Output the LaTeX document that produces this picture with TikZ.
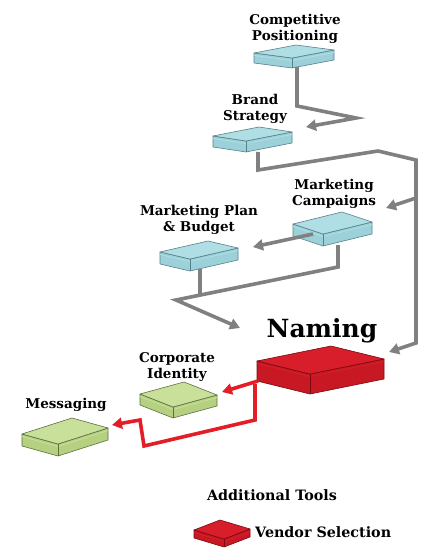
\documentclass[tikz,border=0pt]{standalone}
\usepackage{fontspec}
\setmainfont{DejaVu Serif}
\usetikzlibrary{arrows.meta,calc}

\definecolor{bluetop}{RGB}{176,222,229}
\definecolor{blueside}{RGB}{156,209,218}
\definecolor{blueedge}{RGB}{88,128,138}
\definecolor{greentop}{RGB}{200,224,154}
\definecolor{greenside}{RGB}{180,208,128}
\definecolor{greenedge}{RGB}{92,112,62}
\definecolor{redtop}{RGB}{216,30,42}
\definecolor{redside}{RGB}{200,24,36}
\definecolor{rededge}{RGB}{120,10,16}
\definecolor{linkgray}{RGB}{128,128,128}
\definecolor{linkred}{RGB}{228,30,38}

% #1 left, #2 front, #3 right corner of the top face, #4 thickness, #5 colour
\newcommand{\slab}[5]{%
  \coordinate (sl) at #1; \coordinate (sf) at #2; \coordinate (sr) at #3;
  \coordinate (sb) at ($(sl)+(sr)-(sf)$);
  \filldraw[fill=#5side,draw=#5edge,line width=0.6pt,line join=round]
    (sl) -- (sf) -- (sr) -- ($(sr)+(0,#4)$) -- ($(sf)+(0,#4)$) -- ($(sl)+(0,#4)$) -- cycle;
  \draw[#5top,line width=0.8pt] ($(sl)+(0,2.5)$) -- ($(sf)+(0,2.5)$) -- ($(sr)+(0,2.5)$);
  \filldraw[fill=#5top,draw=#5edge,line width=0.6pt,line join=round]
    (sl) -- (sb) -- (sr) -- (sf) -- cycle;
  \draw[#5edge,line width=0.6pt] (sf) -- ($(sf)+(0,#4)$);
}

\begin{document}
\begin{tikzpicture}[x=1pt,y=-1pt,
    label/.style={font=\bfseries\fontsize{13.5}{15.5}\selectfont,align=center,inner sep=0pt},
    legend/.style={label,font=\bfseries\fontsize{14.3}{16}\selectfont},
    glink/.style={draw=linkgray,line width=3.6pt,line join=miter},
    rlink/.style={draw=linkred,line width=3.6pt,line join=miter},
    tip/.style={-{Triangle[length=10pt,width=11pt]}}]
\useasboundingbox (0,0) rectangle (428,548);

\slab{(254,53)}{(292,58)}{(334,50)}{10}{blue}
\slab{(213,136)}{(246,141)}{(292,132)}{11}{blue}
\slab{(160,252)}{(190,259)}{(238,248)}{12}{blue}
\slab{(293,224)}{(323,234)}{(372,222)}{12}{blue}
\slab{(257,361)}{(310,374)}{(384,359)}{20}{red}
\slab{(140,394)}{(173,407)}{(217,395)}{11}{green}
\slab{(22,434)}{(58,444)}{(108,428)}{12}{green}
\slab{(194,530)}{(224,539)}{(250,529)}{8}{red}

\node[label] (cp) at (295,29) {Competitive\\Positioning};
\node[label] (bs) at (255,109) {Brand\\Strategy};
\node[label] (mc) at (334,194) {Marketing\\Campaigns};
\node[label] (mp) at (199,220) {Marketing Plan\\\& Budget};
\node[label,font=\bfseries\fontsize{25}{30}\selectfont,anchor=base] (nm) at (322,337) {Naming};
\node[label] (ci) at (177,367) {Corporate\\Identity};
\node[label,anchor=base] (ms) at (66,408) {Messaging};
\node[legend,anchor=base] (at) at (272,500) {Additional Tools};
\node[legend,anchor=base west] (vs) at (255,537) {Vendor Selection};

\coordinate (cp-out) at (297,67);
\coordinate (bs-in) at (306,127);
\coordinate (bs-out) at (258,152);
\coordinate (mc-in) at (386,208);
\coordinate (nm-in) at (389,352);
\coordinate (mc-out) at (313,234);
\coordinate (mp-in) at (253,247);
\coordinate (mc-down) at (338,245);
\coordinate (mp-down) at (200,269);
\coordinate (nm-top) at (240,328);
\coordinate (nm-out) at (258,381);
\coordinate (ci-in) at (222,392);
\coordinate (nm-low) at (255,384);
\coordinate (ms-in) at (112,425);

\draw[glink,tip] (cp-out) -- (297,106) -- (356,118) -- (bs-in);
\draw[glink,tip] (bs-out) -- (258,170) -- (378,151) -- (416,160) -- (416,343) -- (nm-in);
\draw[glink,tip] (416,198) -- (mc-in);
\draw[glink,tip] (mc-out) -- (mp-in);
\draw[glink,tip] (mc-down) -- (338,267) -- (176,300) -- (nm-top);
\draw[glink] (mp-down) -- (200,296);

\draw[rlink,tip] (nm-out) -- (ci-in);
\draw[rlink,tip] (nm-low) -- (255,420) -- (144,446) -- (140,420) -- (ms-in);
\end{tikzpicture}
\end{document}
